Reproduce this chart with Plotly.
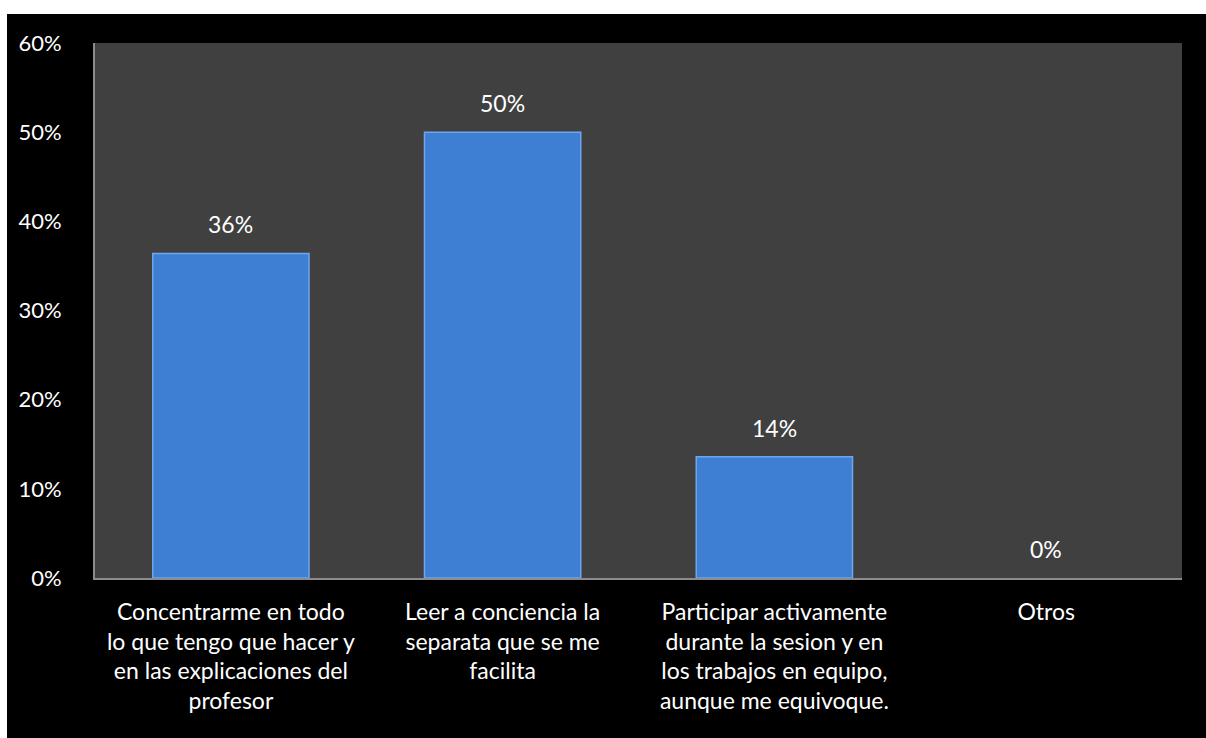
import plotly.graph_objects as go

categories = [
    "Concentrarme en todo<br>lo que tengo que hacer y<br>en las explicaciones del<br>profesor",
    "Leer a conciencia la<br>separata que se me<br>facilita",
    "Participar activamente<br>durante la sesion y en<br>los trabajos en equipo,<br>aunque me equivoque.",
    "Otros",
]
values = [0.364, 0.50, 0.136, 0.0]
y_ticks = [0, 0.1, 0.2, 0.3, 0.4, 0.5, 0.6]
y_tick_labels = ["0%", "10%", "20%", "30%", "40%", "50%", "60%"]

FONT = "Lato, Open Sans, sans-serif"
FS = 23

W, H = 1206, 738
L, R, T, B = 95, 24, 43, 160
PW, PH = W - L - R, H - T - B

fig = go.Figure()
fig.add_trace(go.Bar(
    x=categories,
    y=values,
    marker=dict(color="#3F7FD3",
                line=dict(color="#6EA6EE", width=[1.5 if v > 0 else 0 for v in values])),
    cliponaxis=False,
    width=0.575,
    hoverinfo="x+y",
))

for c, v in zip(categories, values):
    fig.add_annotation(x=c, y=v, text=f"{v:.0%}", showarrow=False,
                       yanchor="bottom", yshift=13,
                       font=dict(color="white", size=FS, family=FONT))

fig.update_layout(
    width=W, height=H,
    paper_bgcolor="white",
    plot_bgcolor="#404040",
    margin=dict(l=L, r=R, t=T, b=B),
    showlegend=False,
    font=dict(family=FONT, color="white", size=FS),
    shapes=[
        dict(type="rect", xref="paper", yref="paper",
             x0=-(L - 7) / PW, x1=1.2, y0=-0.5, y1=(PH + T - 14) / PH,
             fillcolor="black", line=dict(width=0), layer="below"),
        dict(type="rect", xref="paper", yref="paper",
             x0=0, x1=1, y0=0, y1=1,
             fillcolor="#404040", line=dict(width=0), layer="below"),
    ],
)
fig.update_xaxes(
    showgrid=False, showline=True, linecolor="#8C8C8C", linewidth=2,
    tickfont=dict(color="white", size=FS, family=FONT),
    ticks="", ticklabelstandoff=12,
)
fig.update_yaxes(
    range=[0, 0.6], tickvals=y_ticks, ticktext=y_tick_labels,
    showgrid=False, zeroline=False, showline=True, linecolor="#8C8C8C", linewidth=2,
    tickfont=dict(color="white", size=22, family=FONT),
    ticks="", ticklabelstandoff=27,
)

fig.write_html("out.html",
               config={"displayModeBar": False},
               post_script="document.body.style.margin='0';document.body.style.overflow='hidden';")
